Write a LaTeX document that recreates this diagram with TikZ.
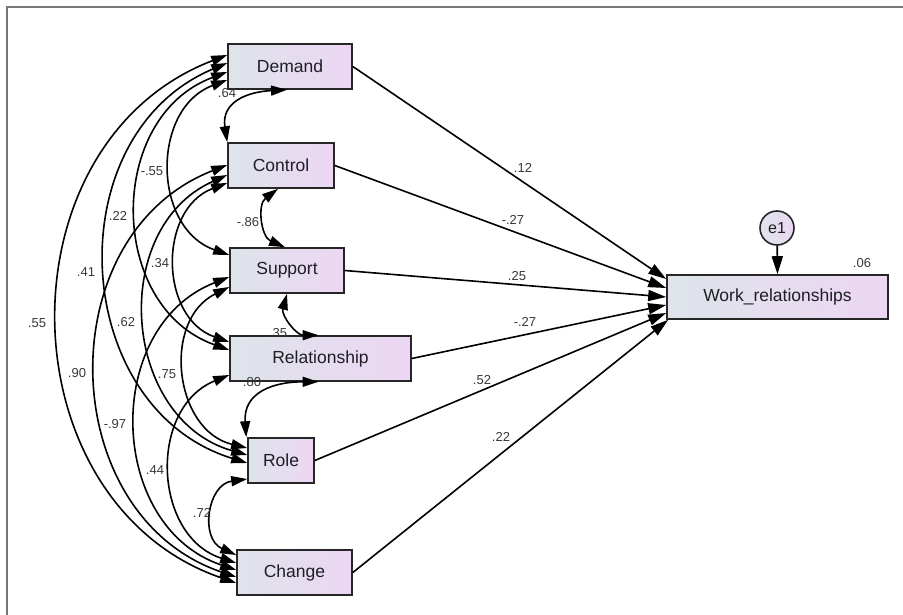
\documentclass[tikz,border=0pt]{standalone}
\usepackage{fontspec}
\setmainfont{Liberation Sans}
\usetikzlibrary{arrows.meta}
\definecolor{boxL}{RGB}{222,228,234}
\definecolor{boxR}{RGB}{236,214,243}
\definecolor{frameC}{RGB}{120,120,120}
\definecolor{txt}{RGB}{30,30,36}
\definecolor{labC}{RGB}{55,55,55}
\begin{document}
\begin{tikzpicture}[x=1pt,y=1pt,
  box/.style={draw=black!85, line width=1.6pt, left color=boxL, right color=boxR,
    minimum height=45pt, inner sep=0pt, font=\fontsize{17.5}{20}\selectfont, text=txt},
  errc/.style={circle, draw=black!85, line width=1.6pt, left color=boxL, right color=boxR,
    minimum size=34pt, inner sep=0pt, font=\fontsize{16}{19}\selectfont, text=txt},
  lab/.style={font=\fontsize{13}{15}\selectfont, text=labC, inner sep=0pt},
  pth/.style={line width=1.6pt, -{Triangle[length=18pt,width=11pt]}},
  cov/.style={line width=1.6pt, {Triangle[length=16pt,width=10pt]}-{Triangle[length=16pt,width=10pt]}},
  longarc/.style={cov, bend right=70, looseness=1.19}
]
\useasboundingbox (0,0) rectangle (903,-615);
\draw[frameC, line width=1.5pt] (7,-615) -- (7,-7) -- (903,-7);

% observed variables
\node[box, minimum width=124pt] (dem) at (290,-66.5) {Demand};
\node[box, minimum width=106pt] (con) at (281,-165.5) {Control};
\node[box, minimum width=114pt] (sup) at (287,-270.5) {Support};
\node[box, minimum width=181pt] (rel) at (320.5,-358.5) {Relationship};
\node[box, minimum width=66pt]  (rol) at (281,-460.5) {Role};
\node[box, minimum width=115pt] (chg) at (294.5,-572.5) {Change};
\node[box, minimum width=221pt, minimum height=44pt] (wr) at (777.5,-297) {Work\_relationships};
\node[errc] (e1) at (777,-228) {e1};
\node[lab] (r2) at (862,-263) {.06};

% regression paths
\draw[pth] (e1) -- (wr.north);
\draw[pth] (dem.east) -- ([yshift=18pt]wr.west);
\draw[pth] (con.east) -- ([yshift=9pt]wr.west);
\draw[pth] (sup.east) -- (wr.west);
\draw[pth] (rel.east) -- ([yshift=-8pt]wr.west);
\draw[pth] (rol.east) -- ([yshift=-16pt]wr.west);
\draw[pth] (chg.east) -- ([xshift=2pt]wr.south west);

\node[lab] (p1) at (523,-168) {.12};
\node[lab] (p2) at (513,-220) {-.27};
\node[lab] (p3) at (517,-276) {.25};
\node[lab] (p4) at (525,-322) {-.27};
\node[lab] (p5) at (482,-380) {.52};
\node[lab] (p6) at (501,-437) {.22};

% long covariances
\draw[longarc] ([yshift=11.5pt]dem.west) to ([yshift=-10.5pt]chg.west);
\draw[longarc] ([yshift=3.5pt]dem.west) to ([yshift=-2.5pt]rol.west);
\draw[longarc] ([yshift=-5.5pt]dem.west) to ([yshift=8.5pt]rel.west);
\draw[longarc] ([yshift=-13.5pt]dem.west) to ([yshift=15.5pt]sup.west);
\draw[longarc] ([yshift=0.5pt]con.west) to ([yshift=-4.5pt]chg.west);
\draw[longarc] ([yshift=-9.5pt]con.west) to ([yshift=5.5pt]rol.west);
\draw[longarc] ([yshift=-17.5pt]con.west) to ([yshift=16.5pt]rel.west);
\draw[longarc] ([yshift=-6.5pt]sup.west) to ([yshift=2.5pt]chg.west);
\draw[longarc] ([yshift=-16.5pt]sup.west) to ([yshift=12.5pt]rol.west);
\draw[longarc] ([yshift=-16.5pt]rel.west) to ([yshift=9.5pt]chg.west);

% adjacent covariances
\draw[cov] (con.north west) .. controls +(-6,40) and +(-40,-2) .. ([xshift=-3pt]dem.south);
\draw[cov] ([xshift=-3pt]con.south) to[bend right=60, looseness=1.14] ([xshift=-2pt]sup.north);
\draw[cov] (sup.south) .. controls +(-6,-22) and +(-22,0) .. ([xshift=-2pt]rel.north);
\draw[cov] ([xshift=-1pt]rol.north west) .. controls +(-3,45) and +(-45,0) .. ([xshift=-2pt]rel.south);
\draw[cov] ([yshift=-18.5pt]rol.west) to[bend right=74, looseness=1.34] ([yshift=17.5pt]chg.west);

% covariance labels
\node[lab] (c1) at (227,-93) {.64};
\node[lab] (c2) at (152,-171) {-.55};
\node[lab] (c3) at (118,-216) {.22};
\node[lab] (c4) at (86,-272) {.41};
\node[lab] (c5) at (248,-222) {-.86};
\node[lab] (c6) at (160,-263) {.34};
\node[lab] (c7) at (37,-323) {.55};
\node[lab] (c8) at (126,-322) {.62};
\node[lab] (c9) at (278,-333) {.35};
\node[lab] (c10) at (77,-373) {.90};
\node[lab] (c11) at (167,-374) {.75};
\node[lab] (c12) at (252,-382) {.80};
\node[lab] (c13) at (115,-424) {-.97};
\node[lab] (c14) at (155,-470) {.44};
\node[lab] (c15) at (202,-513) {.72};
\end{tikzpicture}
\end{document}
